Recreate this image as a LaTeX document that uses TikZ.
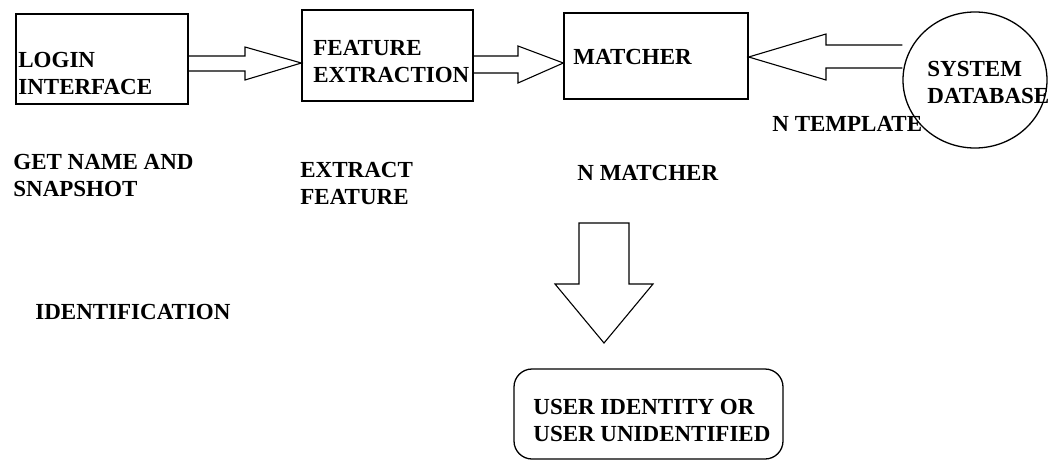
\documentclass[tikz,border=0pt]{standalone}
\usepackage{fontspec}
\setmainfont{Liberation Serif}
\usetikzlibrary{
    positioning,
    shapes.geometric
}
\tikzset{
    box/.style={
        draw,
        line width=0.65pt,
        inner sep=0pt
    },
    blk/.style={
        draw,
        line width=0.55pt,
        line join=miter
    },
    txt/.style={
        font=\bfseries\fontsize{11.5}{13.5}\selectfont,
        align=left,
        inner sep=0pt,
        anchor=north west
    }
}

\begin{document}
\begin{tikzpicture}[
    x=0.5pt,
    y=-0.5pt
]
    \useasboundingbox (0,0) rectangle (1051,461);

    % Bloques
    \node[box, minimum width=86pt, minimum height=45pt]   (login)   at (102,59)    {};
    \node[box, minimum width=85.5pt, minimum height=45.5pt] (feature) at (387.5,55.5) {};
    \node[box, minimum width=92pt, minimum height=43pt]   (matcher) at (656,56)    {};
    \node[box, ellipse, minimum width=72pt, minimum height=68pt] (db) at (975,80) {};
    \node[box, rounded corners=9pt, minimum width=134.5pt, minimum height=45pt] (result) at (648.5,414) {};

    % Textos
    \node[txt] (logintxt)   at (18,52)   {LOGIN\\INTERFACE};
    \node[txt] (featuretxt) at (313,40)  {FEATURE\\EXTRACTION};
    \node[txt] (matchertxt) at (573,49)  {MATCHER};
    \node[txt] (dbtxt)      at (927,61)  {SYSTEM\\DATABASE};
    \node[txt] (resulttxt)  at (533,399) {USER IDENTITY OR\\USER UNIDENTIFIED};

    \node[txt] (getname)  at (13,154)  {GET NAME AND\\SNAPSHOT};
    \node[txt] (extract)  at (300,162) {EXTRACT\\FEATURE};
    \node[txt] (nmatcher) at (577,165) {N MATCHER};
    \node[txt] (ntempl)   at (772,116) {N TEMPLATE};
    \node[txt] (ident)    at (35,304)  {IDENTIFICATION};

    \coordinate (dtop) at (604,223);
    \coordinate (dtip) at (604,343);

    % Flechas de bloque
    \draw[blk] (login.east |- 0,56) -- (245,56) -- (245,47)
        -- (feature.west |- 0,63) -- (245,80) -- (245,71)
        -- (login.east |- 0,71);

    \draw[blk] (feature.east |- 0,56) -- (518,56) -- (518,46)
        -- (matcher.west |- 0,63) -- (518,83) -- (518,73)
        -- (feature.east |- 0,73);

    \draw[blk] (db.west |- 0,45) -- (826,45) -- (826,34)
        -- (matcher.east |- 0,57) -- (826,80) -- (826,68)
        -- (db.west |- 0,68);

    \draw[blk] (579,223) -- (dtop) -- (629,223) -- (629,284) -- (653,284)
        -- (dtip) -- (555,284) -- (579,284) -- cycle;

\end{tikzpicture}
\end{document}
